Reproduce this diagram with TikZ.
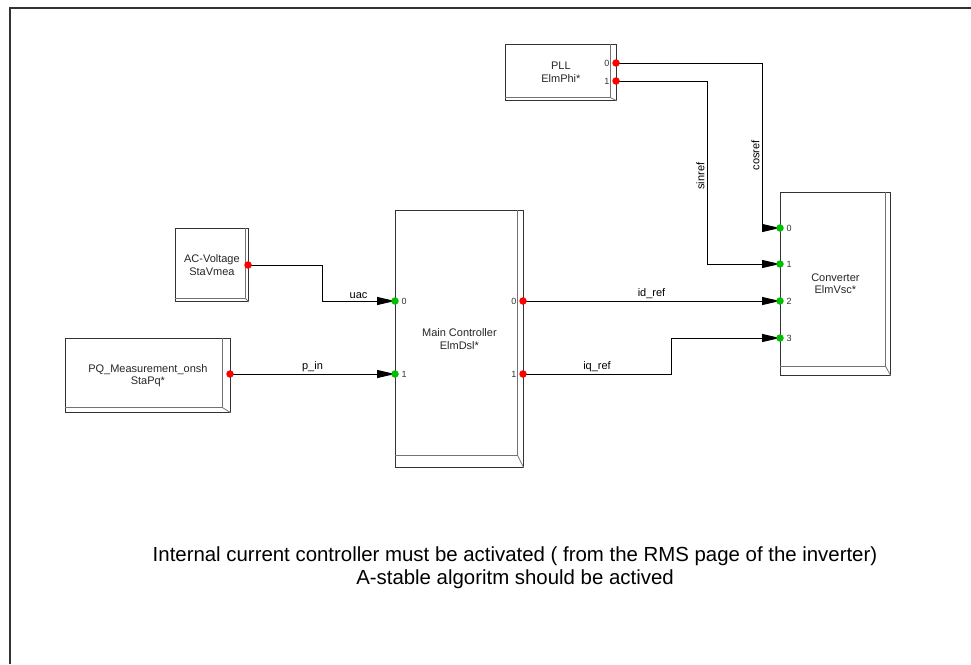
\documentclass[tikz,border=0pt]{standalone}
\usepackage{fontspec}
\setmainfont{Liberation Sans}
\usetikzlibrary{arrows.meta, calc, backgrounds}

% double right/bottom edge of a block
\newcommand{\bevel}[3]{%
  \draw[bevelline] ($(#1.north east)+(-#2,0)$) -- ($(#1.south east)+(-#2,-#3)$) -- ($(#1.south west)+(0,-#3)$);
  \draw[bevelline] ($(#1.south east)+(-#2,-#3)$) -- (#1.south east);
}

\begin{document}
\begin{tikzpicture}[
        x=1pt, y=-1pt,
        blk/.style={rectangle, draw=black!80, line width=0.8pt, anchor=north west, inner sep=0pt, align=center, text=black!85, font=\fontsize{11}{12.5}\selectfont},
        bevelline/.style={draw=black!55, line width=0.8pt},
        portnum/.style={font=\fontsize{9}{9}\selectfont, inner sep=1pt, text=black!80},
        inport/.style={circle, fill=green!75!black, inner sep=0pt, minimum size=7.5pt, label={[portnum, label distance=1.5pt]right:#1}},
        outport/.style={circle, fill=red, inner sep=0pt, minimum size=7.5pt, label={[portnum, label distance=1.5pt]left:#1}},
        conn/.style={-{Triangle[length=18pt, width=8pt]}, line width=0.9pt},
        lbl/.style={font=\fontsize{11}{12}\selectfont, inner sep=2pt}
    ]
    \useasboundingbox (0,0) rectangle (971,664);
    \draw[line width=2pt, black!80] (10,664) -- (10,8) -- (971,8);

    \node[blk, minimum width=111pt, minimum height=56pt] (pll) at (505,44) {PLL\\ElmPhi*};
    \node[blk, minimum width=73pt, minimum height=73pt] (acv) at (175,228) {AC-Voltage\\StaVmea};
    \node[blk, minimum width=165pt, minimum height=74pt] (pqm) at (65,338) {PQ\_Measurement\_onsh\\StaPq*};
    \node[blk, minimum width=128pt, minimum height=257pt] (mainc) at (395,210) {Main Controller\\ElmDsl*};
    \node[blk, minimum width=110pt, minimum height=183pt] (conv) at (780,192) {Converter\\ElmVsc*};
    \bevel{pll}{6}{3}
    \bevel{acv}{3}{3}
    \bevel{pqm}{8}{5}
    \bevel{mainc}{6}{12}
    \bevel{conv}{5}{9}

    % ports
    \node[outport=0] (pll-o0) at (616,63) {};
    \node[outport=1] (pll-o1) at (616,81) {};
    \node[outport={}] (acv-o) at (248,265) {};
    \node[outport={}] (pqm-o) at (230,374) {};
    \node[inport=0] (mainc-i0) at (395,301) {};
    \node[inport=1] (mainc-i1) at (395,374) {};
    \node[outport=0] (mainc-o0) at (523,301) {};
    \node[outport=1] (mainc-o1) at (523,374) {};
    \node[inport=0] (conv-i0) at (780,228) {};
    \node[inport=1] (conv-i1) at (780,264) {};
    \node[inport=2] (conv-i2) at (780,301) {};
    \node[inport=3] (conv-i3) at (780,338) {};

    \begin{scope}[on background layer]
        \draw[conn] (acv-o.center) -- ++(74,0) |- node[lbl, pos=0.75, above] {uac} (mainc-i0.center);
        \draw[conn] (pqm-o.center) -- node[lbl, above] {p\_in} (mainc-i1.center);
        \draw[conn] (mainc-o0.center) -- node[lbl, above] {id\_ref} (conv-i2.center);
        \draw[conn] (mainc-o1.center) -- node[lbl, above] {iq\_ref} ++(148,0) |- (conv-i3.center);
        \draw[conn] (pll-o1.center) -- ++(91,0) |- node[lbl, pos=0.26, rotate=90, anchor=south] {sinref} (conv-i1.center);
        \draw[conn] (pll-o0.center) -- ++(146,0) |- node[lbl, pos=0.28, rotate=90, anchor=south] {cosref} (conv-i0.center);
    \end{scope}

    \node[align=center, font=\fontsize{20.4}{23}\selectfont] (note) at (515,568) {Internal current controller must be activated ( from the RMS page of the inverter)\\A-stable algoritm should be actived};
\end{tikzpicture}
\end{document}
